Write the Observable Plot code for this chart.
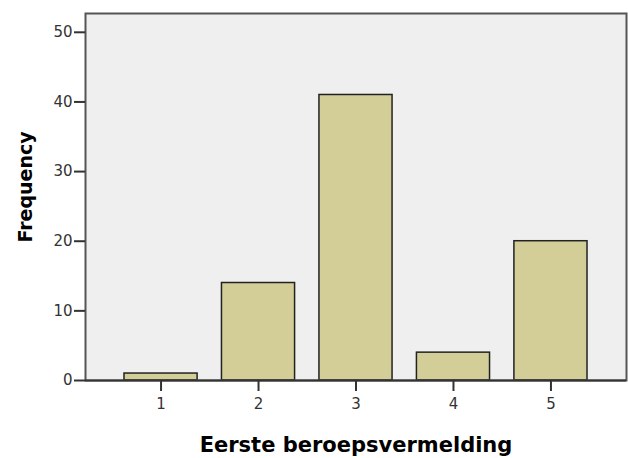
<!DOCTYPE html>
<html>
<head>
<meta charset="utf-8">
<script src="https://cdn.jsdelivr.net/npm/d3@7"></script>
<script src="https://cdn.jsdelivr.net/npm/@observablehq/plot@0.6"></script>
<style>
  body { margin: 0; background: #fff; }
  #chart svg { display: block; }
</style>
</head>
<body>
<div id="chart"></div>
<script>
const categories = ["1", "2", "3", "4", "5"];
const frequencies = [1, 14, 41, 4, 20];
const yTicks = [0, 10, 20, 30, 40, 50];
const xTitle = "Eerste beroepsvermelding";
const yTitle = "Frequency";

const data = categories.map((c, i) => ({cat: c, freq: frequencies[i]}));

const chart = Plot.plot({
  width: 628,
  height: 458,
  marginLeft: 85,
  marginRight: 2,
  marginTop: 13,
  marginBottom: 78,
  style: {fontFamily: "DejaVu Sans", fontSize: "15px", color: "#333", background: "#fff"},
  x: {type: "band", domain: categories, paddingInner: 0.25, paddingOuter: 0.4, round: false, label: null},
  y: {domain: [0, 52.7], label: null},
  marks: [
    Plot.frame({fill: "#efefef", stroke: null}),
    Plot.barY(data, {x: "cat", y: "freq", fill: "#d3ce97", stroke: "#222", strokeWidth: 1.5}),
    Plot.frame({stroke: "#555", strokeWidth: 2}),
    Plot.axisY({ticks: yTicks, tickSize: 11, tickPadding: 2, stroke: "#333", strokeWidth: 2, label: null, fontSize: 15}),
    Plot.axisX({tickSize: 11, tickPadding: 7, stroke: "#333", strokeWidth: 2, label: null, fontSize: 15}),
    Plot.ruleY([0], {stroke: "#333", strokeWidth: 2}),
    Plot.text([yTitle], {text: d => d, frameAnchor: "left", textAnchor: "middle", lineAnchor: "middle", dx: -60, dy: -10, rotate: -90, fontSize: 19, fontWeight: "bold", fill: "#000"}),
    Plot.text([xTitle], {text: d => d, frameAnchor: "bottom", lineAnchor: "bottom", dy: 71, fontSize: 21, fontWeight: "bold", fill: "#000"})
  ]
});
document.getElementById("chart").appendChild(chart);
</script>
</body>
</html>
